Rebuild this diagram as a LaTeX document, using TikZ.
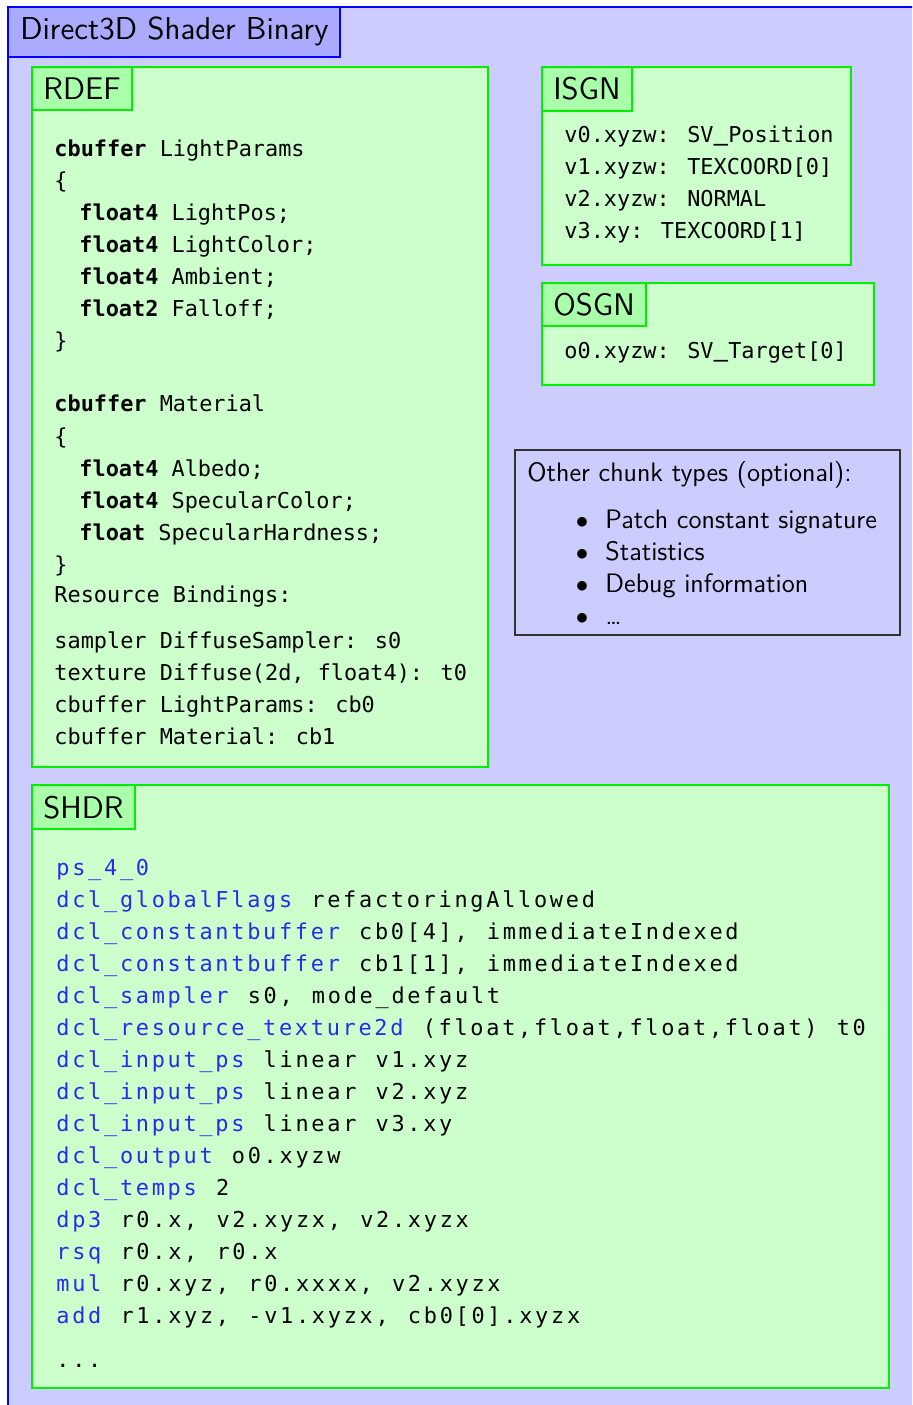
\documentclass[tikz,border=0pt]{standalone}
\usepackage{fontspec}
\usetikzlibrary{fit}
\newfontfamily\codefont{DejaVu Sans Mono}
\newfontfamily\shdrfont{DejaVu Sans Mono}[LetterSpace=12.5, WordSpace=1.207]
\newcommand\shdrsetup{\fontsize{10.5}{12}\selectfont\shdrfont}
\newcommand\lmus{{\sffamily\_}}
\definecolor{outerfill}{HTML}{CCCCFF}
\definecolor{titlefill}{HTML}{AAAAFF}
\definecolor{chunkfill}{HTML}{CCFFCC}
\definecolor{labelfill}{HTML}{AAFFAA}
\definecolor{chunkline}{HTML}{00F000}
\definecolor{kwblue}{HTML}{2A2AEE}
\begin{document}
\begin{tikzpicture}[x=0.48pt,y=-0.48pt,
  frame/.style={inner sep=0pt, outer sep=0pt},
  outerbox/.style={frame, draw=blue, line width=0.9pt, fill=outerfill},
  titlebox/.style={frame, draw=blue, line width=0.9pt, fill=titlefill},
  chunkbox/.style={frame, draw=chunkline, line width=1.1pt, fill=chunkfill},
  labelbox/.style={frame, draw=chunkline, line width=1.1pt, fill=labelfill},
  otherbox/.style={frame, draw=black!80, line width=0.5pt},
  big/.style={inner sep=0pt, anchor=base west, font=\fontsize{15}{18}\selectfont\sffamily},
  titletext/.style={big, font=\fontsize{15.2}{18}\selectfont\sffamily},
  body/.style={inner sep=0pt, anchor=base west, font=\fontsize{12.8}{15}\selectfont\sffamily},
  code/.style={inner sep=0pt, anchor=base west, font=\fontsize{10.5}{12}\selectfont\codefont},
  shdr/.style={inner sep=0pt, anchor=base west, font=\shdrsetup}]
\useasboundingbox (0,0) rectangle (912,1405);
\clip (0,0) rectangle (912,1405);
% outer container
\node[outerbox, fit={(8,7) (930,1430)}] (outer) {};
\node[titlebox, fit={(8,7) (340,57)}] (titlebg) {};
\node[titletext] (title) at (20,40) {Direct3D Shader Binary};

% RDEF
\node[chunkbox, fit={(32,67) (488,767)}] (rdef) {};
\node[labelbox, fit={(32,67) (132,110)}] (rdeflab) {};
\node[big] (rdeft) at (43,100) {RDEF};
\node[code] (r1) at (54,157) {\textbf{cbuffer} LightParams};
\node[code] (r2) at (54,189) {\{};
\node[code] (r3) at (79,221) {\textbf{float4} LightPos;};
\node[code] (r4) at (79,253) {\textbf{float4} LightColor;};
\node[code] (r5) at (79,285) {\textbf{float4} Ambient;};
\node[code] (r6) at (79,317) {\textbf{float2} Falloff;};
\node[code] (r7) at (54,349) {\}};
\node[code] (r8) at (54,412) {\textbf{cbuffer} Material};
\node[code] (r9) at (54,444) {\{};
\node[code] (r10) at (79,476) {\textbf{float4} Albedo;};
\node[code] (r11) at (79,508) {\textbf{float4} SpecularColor;};
\node[code] (r12) at (79,540) {\textbf{float} SpecularHardness;};
\node[code] (r13) at (54,572) {\}};
\node[code] (r14) at (54,602) {Resource Bindings:};
\node[code] (r15) at (54,648) {sampler DiffuseSampler: s0};
\node[code] (r16) at (54,680) {texture Diffuse(2d, float4): t0};
\node[code] (r17) at (54,712) {cbuffer LightParams: cb0};
\node[code] (r18) at (54,744) {cbuffer Material: cb1};

% ISGN
\node[chunkbox, fit={(542,67) (851,265)}] (isgn) {};
\node[labelbox, fit={(542,67) (632,111)}] (isgnlab) {};
\node[big] (isgnt) at (553,100) {ISGN};
\node[code] (i1) at (564,143) {v0.xyzw: SV\lmus Position};
\node[code] (i2) at (564,175) {v1.xyzw: TEXCOORD[0]};
\node[code] (i3) at (564,207) {v2.xyzw: NORMAL};
\node[code] (i4) at (564,239) {v3.xy: TEXCOORD[1]};

% OSGN
\node[chunkbox, fit={(542,283) (874,385)}] (osgn) {};
\node[labelbox, fit={(542,283) (646,326)}] (osgnlab) {};
\node[big] (osgnt) at (553,316) {OSGN};
\node[code] (o1) at (564,359) {o0.xyzw: SV\lmus Target[0]};

% other chunk types
\node[otherbox, fit={(515,450) (900,635)}] (other) {};
\node[body] (oh) at (527,481) {Other chunk types (optional):};
\node[body, anchor=base] (b1) at (582,528) {$\bullet$};
\node[body, anchor=base] (b2) at (582,560) {$\bullet$};
\node[body, anchor=base] (b3) at (582,592) {$\bullet$};
\node[body, anchor=base] (b4) at (582,624) {$\bullet$};
\node[body] (t1) at (605,528) {Patch constant signature};
\node[body] (t2) at (605,560) {Statistics};
\node[body] (t3) at (605,592) {Debug information};
\node[body] (t4) at (605,624) {\ldots};

% SHDR
\node[chunkbox, fit={(32,785) (889,1388)}] (shdr) {};
\node[labelbox, fit={(32,785) (135,829)}] (shdrlab) {};
\node[big] (shdrt) at (43,818) {SHDR};
\node[shdr] (s1) at (56,875) {\textcolor{kwblue}{ps\_4\_0}};
\node[shdr] (s2) at (56,907) {\textcolor{kwblue}{dcl\_globalFlags} refactoringAllowed};
\node[shdr] (s3) at (56,939) {\textcolor{kwblue}{dcl\_constantbuffer} cb0[4], immediateIndexed};
\node[shdr] (s4) at (56,971) {\textcolor{kwblue}{dcl\_constantbuffer} cb1[1], immediateIndexed};
\node[shdr] (s5) at (56,1003) {\textcolor{kwblue}{dcl\_sampler} s0, mode\_default};
\node[shdr] (s6) at (56,1035) {\textcolor{kwblue}{dcl\_resource\_texture2d} (float,float,float,float) t0};
\node[shdr] (s7) at (56,1067) {\textcolor{kwblue}{dcl\_input\_ps} linear v1.xyz};
\node[shdr] (s8) at (56,1099) {\textcolor{kwblue}{dcl\_input\_ps} linear v2.xyz};
\node[shdr] (s9) at (56,1131) {\textcolor{kwblue}{dcl\_input\_ps} linear v3.xy};
\node[shdr] (s10) at (56,1163) {\textcolor{kwblue}{dcl\_output} o0.xyzw};
\node[shdr] (s11) at (56,1195) {\textcolor{kwblue}{dcl\_temps} 2};
\node[shdr] (s12) at (56,1227) {\textcolor{kwblue}{dp3} r0.x, v2.xyzx, v2.xyzx};
\node[shdr] (s13) at (56,1259) {\textcolor{kwblue}{rsq} r0.x, r0.x};
\node[shdr] (s14) at (56,1291) {\textcolor{kwblue}{mul} r0.xyz, r0.xxxx, v2.xyzx};
\node[shdr] (s15) at (56,1323) {\textcolor{kwblue}{add} r1.xyz, -v1.xyzx, cb0[0].xyzx};
\node[shdr] (s16) at (56,1367) {...};
\end{tikzpicture}
\end{document}
